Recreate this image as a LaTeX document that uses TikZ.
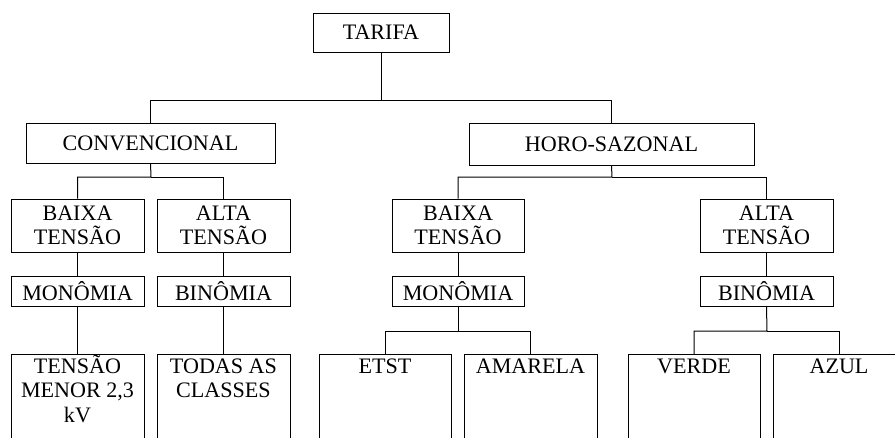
\documentclass[tikz,border=0pt]{standalone}
\usepackage{fontspec}
\setmainfont{Liberation Serif}
\begin{document}
\begin{tikzpicture}[x=1pt,y=-1pt,
  every node/.style={font=\fontsize{22.1pt}{24.3pt}\selectfont},
  box/.style={draw, line width=1pt, inner sep=0pt, align=center, minimum width=133pt},
  leaf/.style={draw, line width=1pt, inner sep=0pt, anchor=north, minimum width=132pt, minimum height=120pt},
  lbl/.style={inner sep=0pt, align=center, anchor=base},
  wire/.style={line width=1pt}]
\useasboundingbox (0,0) rectangle (895,437);
\clip (0,0) rectangle (895,437);

% top levels
\node[box, minimum width=136pt, minimum height=39pt] (tarifa) at (381,32.5) {TARIFA};
\node[box, minimum width=249pt, minimum height=40pt] (conv) at (150.5,143) {CONVENCIONAL};
\node[box, minimum width=285pt, minimum height=42pt] (horo) at (611.5,144) {HORO-SAZONAL};

% voltage levels
\node[box, minimum height=53pt] (cbt) at (77.5,225.5) {BAIXA\\TENSÃO};
\node[box, minimum height=53pt] (cat) at (223.5,225.5) {ALTA\\TENSÃO};
\node[box, minimum width=132pt, minimum height=53pt] (hbt) at (458,225.5) {BAIXA\\TENSÃO};
\node[box, minimum height=53pt] (hat) at (766.5,225.5) {ALTA\\TENSÃO};

% tariff structure
\node[box, minimum height=30pt] (cmono) at (77.5,291) {MONÔMIA};
\node[box, minimum height=30pt] (cbin) at (223.5,291) {BINÔMIA};
\node[box, minimum width=132pt, minimum height=30pt] (hmono) at (458,291) {MONÔMIA};
\node[box, minimum height=30pt] (hbin) at (766.5,291) {BINÔMIA};

% bottom boxes (open below the frame)
\node[leaf, minimum width=133pt] (menor) at (77.5,354) {};
\node[leaf, minimum width=133pt] (todas) at (223.5,354) {};
\node[leaf] (etst) at (385,354) {};
\node[leaf, minimum width=133pt] (amarela) at (530.5,354) {};
\node[leaf] (verde) at (694,354) {};
\node[leaf] (azul) at (839,354) {};

% leaf captions, placed by the baseline of their last line
\node[lbl] (tmenor) at (77.5,422) {TENSÃO\\MENOR 2,3\\kV};
\node[lbl] (ttodas) at (223.5,397.5) {TODAS AS\\CLASSES};
\node[lbl] (tetst) at (385,373) {ETST};
\node[lbl] (tamarela) at (530.5,373) {AMARELA};
\node[lbl] (tverde) at (694,373) {VERDE};
\node[lbl] (tazul) at (839,373) {AZUL};

% bus junctions
\coordinate (b1) at (381,100);
\coordinate (b2) at (151,177);
\coordinate (b3) at (612,177);
\coordinate (b4) at (458,331);
\coordinate (b5) at (767,331);

% connectors
\draw[wire] (tarifa.south) -- (b1) -| (conv.north);
\draw[wire] (b1) -| (horo.north);
\draw[wire] (conv.south) -- (b2) -| (cbt.north);
\draw[wire] (b2) -| (cat.north);
\draw[wire] (horo.south) -- (b3) -| (hbt.north);
\draw[wire] (b3) -| (hat.north);
\draw[wire] (cbt.south) -- (cmono.north);
\draw[wire] (cat.south) -- (cbin.north);
\draw[wire] (hbt.south) -- (hmono.north);
\draw[wire] (hat.south) -- (hbin.north);
\draw[wire] (cmono.south) -- (menor.north);
\draw[wire] (cbin.south) -- (todas.north);
\draw[wire] (hmono.south) -- (b4) -| (etst.north);
\draw[wire] (b4) -| (amarela.north);
\draw[wire] (hbin.south) -- (b5) -| (verde.north);
\draw[wire] (b5) -| (azul.north);
\end{tikzpicture}
\end{document}
